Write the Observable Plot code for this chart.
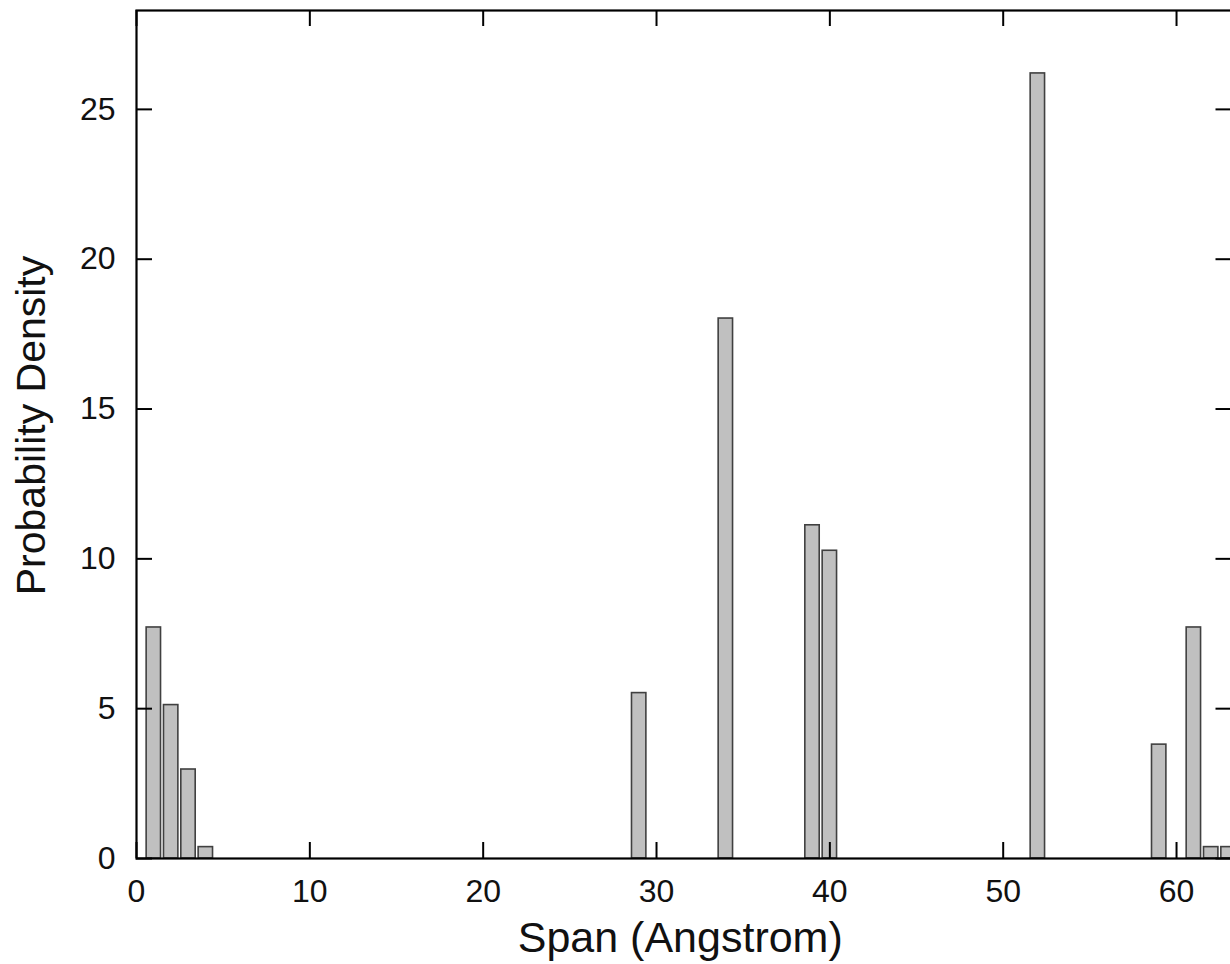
<!DOCTYPE html>
<html>
<head>
<meta charset="utf-8">
<script src="https://cdn.jsdelivr.net/npm/d3@7"></script>
<script src="https://cdn.jsdelivr.net/npm/@observablehq/plot@0.6"></script>
<style>
  html, body { margin: 0; padding: 0; background: #fff; overflow: hidden; }
  #chart { width: 1230px; height: 964px; overflow: hidden; }
  #chart svg { max-width: none !important; }
</style>
</head>
<body>
<div id="chart"></div>
<script>
// Data
const spans   = [1, 2, 3, 4, 29, 34, 39, 40, 52, 59, 61, 62, 63];
const density = [7.71, 5.12, 2.97, 0.38, 5.52, 18.02, 11.12, 10.27, 26.2, 3.8, 7.71, 0.38, 0.38];
const xTicks = [0, 10, 20, 30, 40, 50, 60];
const yTicks = [0, 5, 10, 15, 20, 25];
const xTitle = "Span (Angstrom)";
const yTitle = "Probability Density";

const bars = spans.map((s, i) => ({span: s, density: density[i]}));

const W = 1234, H = 964;
const mL = 136, mR = 2.5, mT = 10, mB = 106;
const plotW = W - mL - mR, plotH = H - mT - mB;
const tick = 16;
const half = 0.415;

const chart = Plot.plot({
  width: W,
  height: H,
  marginLeft: mL,
  marginRight: mR,
  marginTop: mT,
  marginBottom: mB,
  style: {fontFamily: "'Liberation Sans', Arial, sans-serif", fontSize: "32px", color: "#111", background: "#fff", maxWidth: "none"},
  x: {domain: [0, 63.2], ticks: xTicks},
  y: {domain: [0, 28.3], ticks: yTicks},
  marks: [
    Plot.rectY(bars, {
      x1: d => d.span - half,
      x2: d => d.span + half,
      y1: 0,
      y2: "density",
      fill: "#c0c0c0",
      stroke: "#404040",
      strokeWidth: 1.6
    }),
    // inward ticks on all four sides
    Plot.tickX(xTicks, {x: d => d, insetTop: plotH - tick, stroke: "#000", strokeWidth: 2}),
    Plot.tickX(xTicks, {x: d => d, insetBottom: plotH - tick, stroke: "#000", strokeWidth: 2}),
    Plot.tickY(yTicks, {y: d => d, insetRight: plotW - tick, stroke: "#000", strokeWidth: 2}),
    Plot.tickY(yTicks, {y: d => d, insetLeft: plotW - tick, stroke: "#000", strokeWidth: 2}),
    Plot.axisX(xTicks, {tickSize: 0, tickPadding: 21, fontSize: 32, label: null}),
    Plot.axisY(yTicks, {tickSize: 0, tickPadding: 21, fontSize: 32, label: null}),
    Plot.frame({stroke: "#000", strokeWidth: 2.2}),
    Plot.text([xTitle], {
      text: d => d,
      frameAnchor: "bottom",
      textAnchor: "middle",
      lineAnchor: "bottom",
      dy: 93,
      dx: -4,
      fontSize: 43,
      fill: "#111"
    }),
    Plot.text([yTitle], {
      text: d => d,
      frameAnchor: "left",
      textAnchor: "middle",
      lineAnchor: "bottom",
      rotate: -90,
      dx: -92,
      dy: -9,
      fontSize: 41,
      fill: "#111"
    })
  ]
});

document.getElementById("chart").appendChild(chart);
</script>
</body>
</html>
